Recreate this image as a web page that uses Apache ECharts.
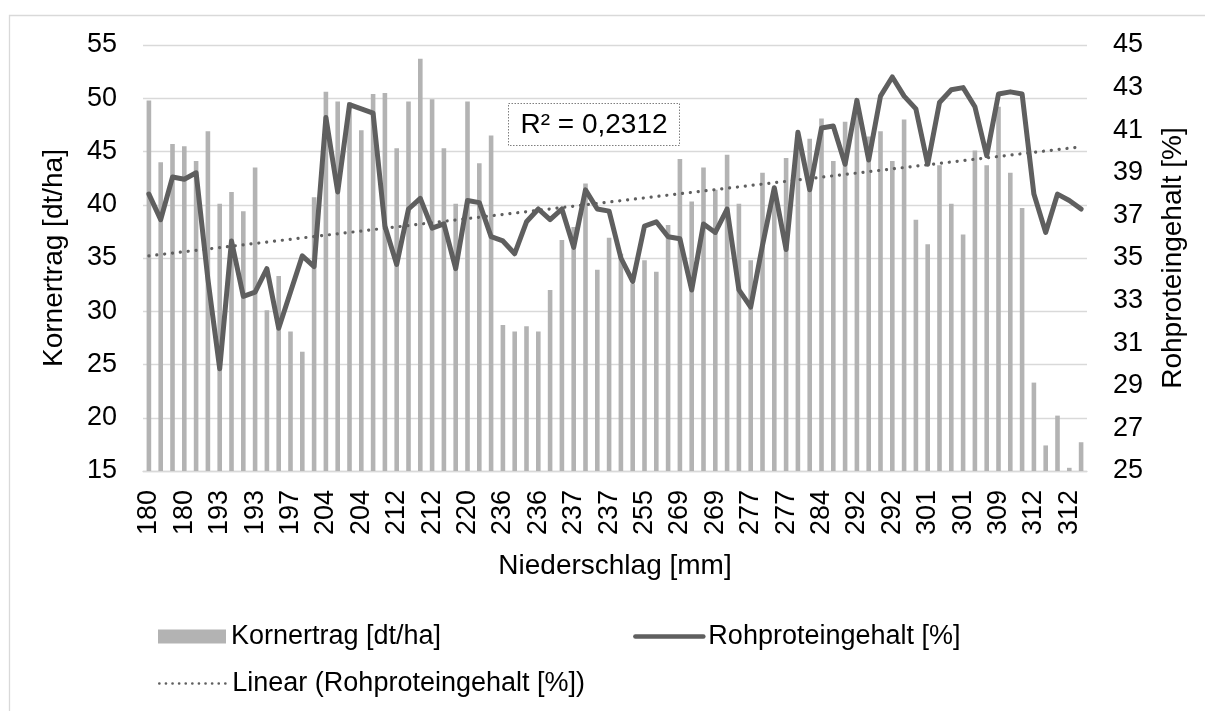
<!DOCTYPE html>
<html>
<head>
<meta charset="utf-8">
<title>Kornertrag und Rohproteingehalt</title>
<script src="https://cdn.jsdelivr.net/npm/echarts@6/dist/echarts.min.js"></script>
<style>
  html, body { margin: 0; padding: 0; background: #fff; }
  #chart { width: 1205px; height: 711px; }
</style>
</head>
<body>
<div id="chart"></div>
<script>
// Niederschlag [mm] je Standort (nur jede dritte Kategorie ist beschriftet)
const niederschlag = [
  '180','180','180','180','180','193','193','193','193','193',
  '193','197','197','197','204','204','204','204','204','212',
  '212','212','212','212','212','220','220','220','236','236',
  '236','236','236','236','237','237','237','237','237','237',
  '255','255','255','269','269','269','269','269','269','277',
  '277','277','277','277','277','284','284','284','292','292',
  '292','292','292','292','301','301','301','301','301','301',
  '309','309','309','312','312','312','312','312','312','312'
]

// Kornertrag [dt/ha] (linke Achse)
const kornertrag = [
  49.8, 44.0, 45.7, 45.5, 44.1, 46.9, 40.1, 41.2, 39.4, 43.5,
  30.1, 33.3, 28.1, 26.2, 40.7, 50.6, 49.7, 49.6, 47.0, 50.4,
  50.5, 45.3, 49.7, 53.7, 49.9, 45.3, 40.1, 49.7, 43.9, 46.5,
  28.7, 28.1, 28.6, 28.1, 32.0, 36.7, 37.9, 42.0, 33.9, 36.9,
  35.4, 32.6, 34.8, 33.7, 38.1, 44.3, 40.3, 43.5, 41.4, 44.7,
  40.1, 34.8, 43.0, 41.2, 44.4, 45.8, 46.2, 48.1, 44.1, 47.8,
  50.0, 46.4, 46.9, 44.1, 48.0, 38.6, 36.3, 43.7, 40.1, 37.2,
  45.1, 43.7, 49.2, 43.0, 39.7, 23.3, 17.4, 20.2, 15.3, 17.7
]

// Rohproteingehalt [%] (rechte Achse)
const rohprotein = [
  38.0, 36.8, 38.8, 38.7, 39.0, 34.0, 29.8, 35.8, 33.2, 33.4,
  34.5, 31.7, 33.4, 35.1, 34.6, 41.6, 38.1, 42.2, 42.0, 41.8,
  36.5, 34.7, 37.3, 37.8, 36.4, 36.6, 34.5, 37.7, 37.6, 36.0,
  35.8, 35.2, 36.7, 37.3, 36.8, 37.3, 35.5, 38.2, 37.3, 37.2,
  35.0, 33.9, 36.5, 36.7, 36.0, 35.9, 33.5, 36.6, 36.2, 37.3,
  33.5, 32.7, 35.6, 38.3, 35.4, 40.9, 38.2, 41.1, 41.2, 39.4,
  42.4, 39.6, 42.6, 43.5, 42.6, 42.0, 39.4, 42.3, 42.9, 43.0,
  42.1, 39.8, 42.7, 42.8, 42.7, 38.0, 36.2, 38.0, 37.7, 37.3
]

// Trendlinie: Anfangs- und Endwert
const trendEnds = [35.1, 40.22]
const rSquared = 'R² = 0,2312'

const FONT = '"Liberation Sans", Arial, sans-serif'
const GRID_COLOR = '#d9d9d9'
const LINE_COLOR = '#5f5f5f'
const DOTS = [0.1, 7.8]

// Trend-Serie: nur erster und letzter Punkt, dazwischen verbunden
const trendData = niederschlag.map(() => null)
trendData[0] = trendEnds[0]
trendData[trendData.length - 1] = trendEnds[1]

const chart = echarts.init(document.getElementById('chart'))

const legendText = { fontSize: 27, color: '#000', fontFamily: FONT }

const option = {
  animation: false,
  textStyle: { fontFamily: FONT },
  grid: { left: 143, right: 118, top: 45, bottom: 240 },
  legend: [
    {
      left: 153,
      top: 618,
      itemWidth: 68,
      itemHeight: 14,
      itemGap: 192,
      textStyle: legendText,
      data: [
        { name: 'Kornertrag [dt/ha]', icon: 'rect' },
        {
          name: 'Rohproteingehalt [%]',
          itemStyle: { opacity: 0 },
          lineStyle: { color: LINE_COLOR, width: 4.5, cap: 'round' }
        }
      ]
    },
    {
      left: 153,
      top: 665,
      itemWidth: 68,
      itemHeight: 14,
      textStyle: legendText,
      data: [{
        name: 'Linear (Rohproteingehalt [%])',
        itemStyle: { opacity: 0 },
        lineStyle: { color: LINE_COLOR, width: 2.6, type: [0.1, 6.5], cap: 'round' }
      }]
    }
  ],
  xAxis: {
    type: 'category',
    data: niederschlag,
    axisLine: { lineStyle: { color: GRID_COLOR, width: 1.3 } },
    axisTick: { show: false },
    axisLabel: {
      rotate: 90,
      interval: 2,
      margin: 19,
      fontSize: 27,
      color: '#000',
      fontFamily: FONT
    },
    name: 'Niederschlag [mm]',
    nameLocation: 'middle',
    nameGap: 81,
    nameTextStyle: { fontSize: 28, color: '#000', fontFamily: FONT }
  },
  yAxis: [
    {
      type: 'value',
      min: 15,
      max: 55,
      interval: 5,
      axisLine: { show: false },
      axisTick: { show: false },
      splitLine: { lineStyle: { color: GRID_COLOR, width: 1.3 } },
      axisLabel: { fontSize: 27, color: '#000', margin: 26, fontFamily: FONT },
      name: 'Kornertrag [dt/ha]',
      nameLocation: 'middle',
      nameRotate: 90,
      nameGap: 75,
      nameTextStyle: { fontSize: 28, color: '#000', fontFamily: FONT }
    },
    {
      type: 'value',
      min: 25,
      max: 45,
      interval: 2,
      axisLine: { show: false },
      axisTick: { show: false },
      splitLine: { show: false },
      axisLabel: { fontSize: 27, color: '#000', margin: 26, fontFamily: FONT },
      name: 'Rohproteingehalt [%]',
      nameLocation: 'middle',
      nameRotate: 90,
      nameGap: 72,
      nameTextStyle: { fontSize: 28, color: '#000', fontFamily: FONT }
    }
  ],
  series: [
    {
      name: 'Kornertrag [dt/ha]',
      type: 'bar',
      yAxisIndex: 0,
      barWidth: 4.6,
      itemStyle: { color: '#b3b3b3' },
      data: kornertrag
    },
    {
      name: 'Rohproteingehalt [%]',
      type: 'line',
      yAxisIndex: 1,
      symbol: 'none',
      lineStyle: { color: LINE_COLOR, width: 5, join: 'round', cap: 'round' },
      itemStyle: { color: LINE_COLOR },
      data: rohprotein
    },
    {
      name: 'Linear (Rohproteingehalt [%])',
      type: 'line',
      yAxisIndex: 1,
      symbol: 'none',
      connectNulls: true,
      z: 5,
      lineStyle: { color: LINE_COLOR, width: 3.2, type: DOTS, cap: 'round' },
      itemStyle: { color: LINE_COLOR },
      data: trendData
    }
  ],
  graphic: [
    {
      type: 'rect',
      silent: true,
      shape: { x: 9.5, y: 15.5, width: 1400, height: 900 },
      style: { fill: 'none', stroke: GRID_COLOR, lineWidth: 1.3 }
    },
    {
      type: 'rect',
      silent: true,
      z: 10,
      shape: { x: 508.5, y: 103.5, width: 171, height: 42 },
      style: { fill: 'none', stroke: '#7f7f7f', lineWidth: 1, lineDash: [1.5, 1.5] }
    },
    {
      type: 'text',
      silent: true,
      z: 10,
      x: 594,
      y: 125,
      style: {
        text: rSquared,
        fontSize: 28,
        fontFamily: FONT,
        fill: '#000',
        align: 'center',
        verticalAlign: 'middle'
      }
    }
  ]
}

chart.setOption(option)
</script>
</body>
</html>
